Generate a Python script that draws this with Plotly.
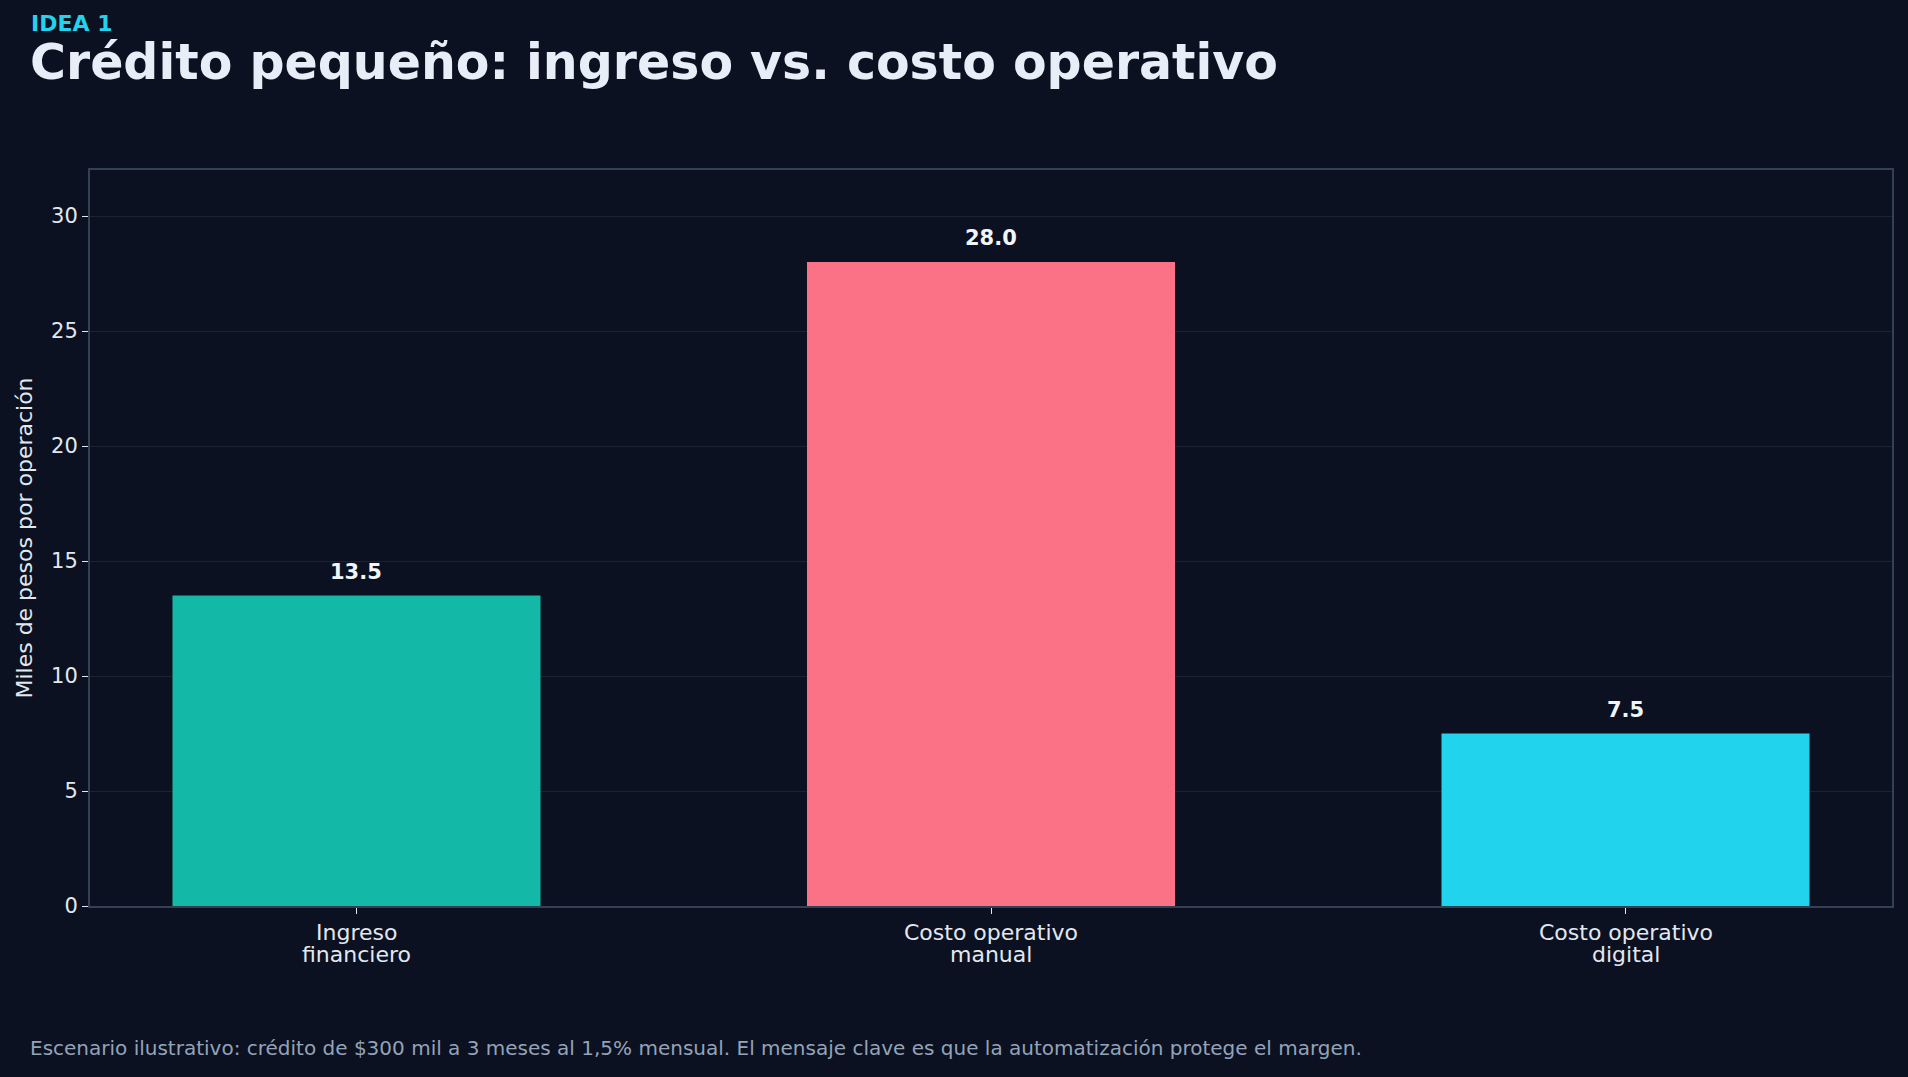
import plotly.graph_objects as go

category_lines = [("Ingreso", "financiero"), ("Costo operativo", "manual"), ("Costo operativo", "digital")]
values = [13.5, 28.0, 7.5]
colors = ["#14b8a6", "#fb7185", "#22d3ee"]
value_labels = [f"{v:.1f}" for v in values]
y_ticks = [0, 5, 10, 15, 20, 25, 30]

BG = "#0b1120"
FONT = "DejaVu Sans"

fig = go.Figure()
fig.add_trace(go.Bar(
    x=[0, 1, 2], y=values, marker=dict(color=colors, line=dict(width=0)),
    width=0.58, hoverinfo="skip",
))

fig.update_layout(
    width=1908, height=1077,
    paper_bgcolor=BG, plot_bgcolor=BG,
    margin=dict(l=90, r=16, t=170, b=171),
    showlegend=False,
    font=dict(family=FONT, color="#e2e8f0", size=18),
)

for i, (v, t) in enumerate(zip(values, value_labels)):
    fig.add_annotation(x=i, y=v, text=f"<b>{t}</b>", showarrow=False,
                       yanchor="bottom", yshift=10,
                       font=dict(family=FONT, size=21, color="#f1f5f9"))

# category labels (two lines, tight spacing)
for i, lines in enumerate(category_lines):
    for j, line in enumerate(lines):
        fig.add_annotation(x=i, xref="x", y=0, yref="paper", text=line, showarrow=False,
                           xanchor="center", yanchor="middle", yshift=-26 - 22 * j,
                           font=dict(family=FONT, size=22, color="#e2e8f0"))

fig.add_annotation(xref="paper", yref="paper", x=-61/1802, y=1 + 146.5/736,
                   xanchor="left", yanchor="middle", text="<b>IDEA 1</b>", showarrow=False,
                   font=dict(family=FONT, size=22, color="#22d3ee"))
fig.add_annotation(xref="paper", yref="paper", x=-62/1802, y=1 + 107.5/736,
                   xanchor="left", yanchor="middle",
                   text="<b>Crédito pequeño: ingreso vs. costo operativo</b>", showarrow=False,
                   font=dict(family=FONT, size=49, color="#e8eef8"))
fig.add_annotation(xref="paper", yref="paper", x=-62/1802, y=-142/736,
                   xanchor="left", yanchor="middle",
                   text="Escenario ilustrativo: crédito de $300 mil a 3 meses al 1,5% mensual. El mensaje clave es que la automatización protege el margen.",
                   showarrow=False,
                   font=dict(family=FONT, size=20, color="#94a3b8"))

fig.update_xaxes(
    range=[-0.42, 2.42], tickmode="array", tickvals=[0, 1, 2], showticklabels=False,
    showgrid=False, zeroline=False,
    showline=True, linecolor="#334155", linewidth=2, mirror=True,
    ticks="outside", ticklen=6, tickcolor="#e2e8f0", tickwidth=1,
)
fig.update_yaxes(
    range=[0, 32], tickmode="array", tickvals=y_ticks,
    showgrid=True, gridcolor="#1c2230", gridwidth=1, zeroline=False,
    showline=True, linecolor="#334155", linewidth=2, mirror=True,
    ticks="outside", ticklen=6, tickcolor="#e2e8f0", tickwidth=1,
    tickfont=dict(family=FONT, size=21, color="#e2e8f0"),
    title=dict(text="Miles de pesos por operación", standoff=12,
               font=dict(family=FONT, size=22, color="#e2e8f0")),
)

fig.write_html("out.html")
